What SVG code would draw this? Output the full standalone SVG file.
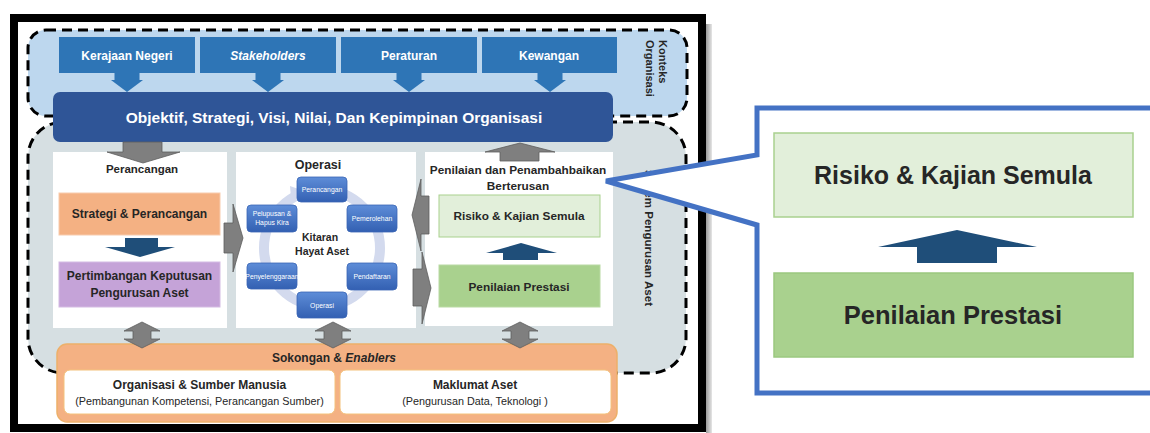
<svg xmlns="http://www.w3.org/2000/svg" width="1150" height="433" viewBox="0 0 1150 433">
  <defs>
    <linearGradient id="gb" x1="0" y1="0" x2="0" y2="1">
      <stop offset="0" stop-color="#5E8DD8"/>
      <stop offset="1" stop-color="#3360B2"/>
    </linearGradient>
    <linearGradient id="sh" x1="0" y1="0" x2="1" y2="0">
      <stop offset="0" stop-color="#9A9A9A"/>
      <stop offset="1" stop-color="#E6E6E6"/>
    </linearGradient>
    <style>
      text { font-family: "Liberation Sans", Arial, sans-serif; }
      .dash { stroke: #000; stroke-width: 3; stroke-dasharray: 10 6; }
      .top { fill: #2E75B6; }
      .tw { fill: #fff; font-weight: bold; font-size: 12px; text-anchor: middle; }
      .garr { fill: #7F7F7F; stroke: #5E5E5E; stroke-width: 0.8; }
      .darr { fill: #1F4E79; }
      .panel { fill: #fff; }
      .lbl { fill: #262626; font-weight: bold; text-anchor: middle; }
      .cyc { fill: url(#gb); stroke: #3A66B5; stroke-width: 0.8; }
      .ct { fill: #fff; font-size: 6.8px; text-anchor: middle; }
      .reg { fill: #262626; text-anchor: middle; }
    </style>
  </defs>
  <rect width="1150" height="433" fill="#fff"/>

  <!-- outer frame -->
  <g id="frame">
    <rect x="706" y="24" width="6" height="409" fill="url(#sh)"/>
    <rect x="14" y="18" width="688" height="410" fill="#fff" stroke="#000" stroke-width="8"/>
  </g>

  <!-- context region -->
  <g id="konteks">
    <rect x="28" y="30" width="659" height="86" rx="18" fill="#BDD7EE" class="dash"/>
    <text transform="translate(656,40) rotate(90)" x="0" y="-3" font-size="11" font-weight="bold" fill="#262626">Konteks</text>
    <text transform="translate(643,40) rotate(90)" x="0" y="-3" font-size="11" font-weight="bold" fill="#262626">Organisasi</text>
  </g>

  <!-- asset management system region -->
  <g id="sistem">
    <rect x="28" y="122" width="658" height="251" rx="35" fill="#D6DFE2" class="dash"/>
    <text transform="translate(649,238) rotate(90)" x="0" y="4" font-size="11.6" font-weight="bold" fill="#262626" text-anchor="middle">Sistem Pengurusan Aset</text>
  </g>

  <g id="kerajaan"><rect class="top" x="59" y="37" width="136" height="36"/><text class="tw" x="127" y="60">Kerajaan Negeri</text></g>
  <g id="stakeholders"><rect class="top" x="200" y="37" width="136" height="36"/><text class="tw" x="268" y="60" font-style="italic">Stakeholders</text></g>
  <g id="peraturan"><rect class="top" x="341" y="37" width="136" height="36"/><text class="tw" x="409" y="60">Peraturan</text></g>
  <g id="kewangan"><rect class="top" x="482" y="37" width="135" height="36"/><text class="tw" x="549" y="60">Kewangan</text></g>

  <g id="objektif">
    <rect x="53" y="92" width="560" height="50" rx="7" fill="#2F5597"/>
    <text x="334" y="123" fill="#fff" font-size="15.5" font-weight="bold" text-anchor="middle">Objektif, Strategi, Visi, Nilai, Dan Kepimpinan Organisasi</text>
  </g>

  <!-- panels -->
  <g id="perancangan">
    <rect class="panel" x="53" y="152" width="174" height="176"/>
    <text class="lbl" x="142" y="173" font-size="11.5">Perancangan</text>
  </g>
  <g id="strategi">
    <rect x="59" y="193" width="161" height="42" fill="#F4B183" stroke="#F8CBAD" stroke-width="1"/>
    <text class="lbl" x="139.5" y="218" font-size="12">Strategi &amp; Perancangan</text>
  </g>
  <g id="pertimbangan">
    <rect x="59" y="262" width="161" height="45" fill="#C5A3D8" stroke="#D4BBE3" stroke-width="1"/>
    <text class="lbl" x="139.5" y="280" font-size="12">Pertimbangan Keputusan</text>
    <text class="lbl" x="139.5" y="297" font-size="12">Pengurusan Aset</text>
  </g>

  <g id="operasi-panel">
    <rect class="panel" x="236" y="152" width="180" height="176"/>
    <text class="lbl" x="318" y="169" font-size="12.5">Operasi</text>
    <circle cx="322" cy="248" r="58" fill="none" stroke="#D3DAEE" stroke-width="10"/>
    <polygon points="290,186 304,191 291,198" fill="#D3DAEE"/>
    <text class="lbl" x="320" y="241" font-size="10.5">Kitaran</text>
    <text class="lbl" x="322" y="255" font-size="10.5">Hayat Aset</text>
  </g>
  <g id="c-perancangan"><rect class="cyc" x="297" y="177" width="50" height="25" rx="4"/><text class="ct" x="322" y="192">Perancangan</text></g>
  <g id="c-pemerolehan"><rect class="cyc" x="347" y="205" width="50" height="27" rx="4"/><text class="ct" x="372" y="221">Pemerolehan</text></g>
  <g id="c-pendaftaran"><rect class="cyc" x="347" y="263" width="50" height="27" rx="4"/><text class="ct" x="372" y="279">Pendaftaran</text></g>
  <g id="c-operasi"><rect class="cyc" x="297" y="292" width="50" height="26" rx="4"/><text class="ct" x="322" y="307.5">Operasi</text></g>
  <g id="c-penyelenggaraan"><rect class="cyc" x="247" y="263" width="50" height="26" rx="4"/><text class="ct" x="272" y="278.5" font-size="5.7">Penyelenggaraan</text></g>
  <g id="c-pelupusan"><rect class="cyc" x="247" y="205" width="50" height="27" rx="4"/><text class="ct" x="272" y="216">Pelupusan &amp;</text><text class="ct" x="272" y="225">Hapus Kira</text></g>

  <g id="penilaian-panel">
    <rect class="panel" x="425" y="152" width="188" height="174"/>
    <text class="lbl" x="518" y="174" font-size="11.8">Penilaian dan Penambahbaikan</text>
    <text class="lbl" x="518" y="190" font-size="11.8">Berterusan</text>
  </g>
  <g id="risiko">
    <rect x="439" y="195" width="161" height="42" fill="#E2EFDA" stroke="#A9D18E" stroke-width="1"/>
    <text class="lbl" x="519" y="220" font-size="11.8">Risiko &amp; Kajian Semula</text>
  </g>
  <g id="prestasi">
    <rect x="439" y="265" width="161" height="42" fill="#A9D18E" stroke="#B9DAA3" stroke-width="1"/>
    <text class="lbl" x="519" y="291" font-size="11.8">Penilaian Prestasi</text>
  </g>

  <!-- support -->
  <g id="sokongan">
    <rect x="57" y="344" width="560" height="78" rx="10" fill="#F4B183" stroke="#EDB06A" stroke-width="1.5"/>
    <text class="lbl" x="334" y="362" font-size="12">Sokongan &amp; <tspan font-style="italic">Enablers</tspan></text>
  </g>
  <g id="organisasi-sdm">
    <rect x="64" y="370" width="271" height="44" rx="6" fill="#fff" stroke="#F4C27C" stroke-width="1"/>
    <text class="lbl" x="199.5" y="389" font-size="12">Organisasi &amp; Sumber Manusia</text>
    <text class="reg" x="199.5" y="405" font-size="10.8">(Pembangunan Kompetensi, Perancangan Sumber)</text>
  </g>
  <g id="maklumat">
    <rect x="340" y="370" width="271" height="44" rx="6" fill="#fff" stroke="#F4C27C" stroke-width="1"/>
    <text class="lbl" x="475" y="389" font-size="12">Maklumat Aset</text>
    <text class="reg" x="475" y="405" font-size="10.8">(Pengurusan Data, Teknologi )</text>
  </g>

  <!-- connectors -->
  <g id="connectors">
    <polygon class="top" points="114.5,73 139.5,73 139.5,80 143,80 127,92 111,80 114.5,80"/>
    <polygon class="top" points="255.5,73 280.5,73 280.5,80 284,80 268,92 252,80 255.5,80"/>
    <polygon class="top" points="396.5,73 421.5,73 421.5,80 425,80 409,92 393,80 396.5,80"/>
    <polygon class="top" points="537.5,73 562.5,73 562.5,80 566,80 550,92 534,80 537.5,80"/>

    <polygon class="garr" points="123,142 162,142 162,152 180,152 143,163 107,152 123,152"/>
    <polygon class="garr" points="520,143 555,152 539,152 539,161 500,161 500,152 485,152"/>

    <polygon class="garr" points="224,223 233,223 233,204 243,238 233,272 233,253 224,253"/>
    <polygon class="garr" points="412,215 421,179 421,196 429,196 429,234 421,234 421,251"/>
    <polygon class="garr" points="413,269 422,269 422,252 431,288 422,324 422,306 413,306"/>

    <polygon class="garr" points="142,322 160,331 151,331 151,339 160,339 142,348 124,339 133,339 133,331 124,331"/>
    <polygon class="garr" points="333,322 351,331 342,331 342,339 351,339 333,348 315,339 324,339 324,331 315,331"/>
    <polygon class="garr" points="520,322 538,331 529,331 529,339 538,339 520,348 502,339 511,339 511,331 502,331"/>

    <polygon class="darr" points="125,238 158,238 158,247 175,247 140,257 105,247 125,247"/>
    <polygon class="darr" points="521,243 557,253 538,253 538,260 503,260 503,253 486,253"/>
  </g>

  <!-- callout -->
  <g id="callout">
    <polygon points="757,108 1156,108 1156,393 757,393 757,225 606,181 757,155" fill="#fff" stroke="#4472C4" stroke-width="5"/>
  </g>
  <g id="callout-risiko">
    <rect x="774" y="133" width="359" height="84" fill="#E2EFDA" stroke="#A9D18E" stroke-width="1.5"/>
    <text class="lbl" x="953" y="184" font-size="25">Risiko &amp; Kajian Semula</text>
  </g>
  <g id="callout-arrow">
    <polygon class="darr" points="957,230 1037,247 997,247 997,263 917,263 917,247 878,247"/>
  </g>
  <g id="callout-prestasi">
    <rect x="774" y="273" width="359" height="84" fill="#A9D18E" stroke="#9BC87F" stroke-width="1.5"/>
    <text class="lbl" x="953" y="324" font-size="25.5">Penilaian Prestasi</text>
  </g>
</svg>
